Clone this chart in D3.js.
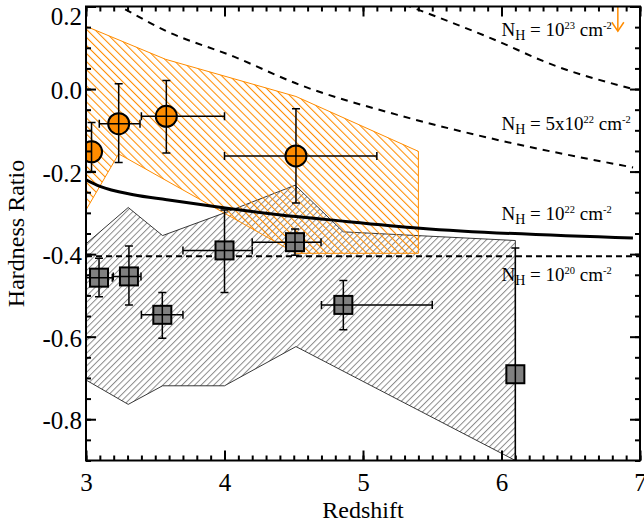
<!DOCTYPE html>
<html><head><meta charset="utf-8">
<script src="https://cdn.jsdelivr.net/npm/d3@7"></script>
<style>
html,body{margin:0;padding:0;background:#fff;}
svg text{font-family:"Liberation Serif","Times New Roman","DejaVu Serif",serif;}
</style></head>
<body>
<svg id="chart" width="644" height="525"></svg>
<script>
// ---- data ----
const xTickValues = [3, 4, 5, 6, 7];
const xTickLabels = ["3", "4", "5", "6", "7"];
const yTickValues = [0.2, 0.0, -0.2, -0.4, -0.6, -0.8];
const yTickLabels = ["0.2", "0.0", "-0.2", "-0.4", "-0.6", "-0.8"];

// orange circles (hard sources)
const circX   = [3.04, 3.236, 3.58, 4.516];
const circY   = [-0.152, -0.084, -0.066, -0.162];
const circYlo = [-0.200, -0.178, -0.155, -0.276];
const circYhi = [-0.081, 0.013, 0.021, -0.048];
const circXlo = [3.04, 3.096, 3.40, 4.00];
const circXhi = [3.04, 3.39, 4.00, 5.10];

// gray squares (soft sources)
const sqX   = [3.094, 3.31, 3.551, 4.0, 4.509, 4.858, 6.10];
const sqY   = [-0.457, -0.454, -0.547, -0.391, -0.371, -0.523, -0.691];
const sqYlo = [-0.503, -0.523, -0.604, -0.493, -0.403, -0.583, -0.95];
const sqYhi = [-0.410, -0.380, -0.493, -0.293, -0.339, -0.464, -0.385];
const sqXlo = [3.00, 3.197, 3.40, 3.70, 4.20, 4.70, 6.10];
const sqXhi = [3.19, 3.397, 3.70, 4.20, 4.697, 5.50, 6.10];

// upper limit arrow
const limX = [6.84];
const limY = [0.14];

// gray hatched band
const grayUpperX = [3.0, 3.305, 3.553, 4.0, 4.51, 4.858, 6.1];
const grayUpperY = [-0.375, -0.287, -0.355, -0.300, -0.233, -0.346, -0.367];
const grayLowerX = [6.1, 4.516, 4.0, 3.553, 3.305, 3.0];
const grayLowerY = [-0.9, -0.624, -0.719, -0.719, -0.764, -0.705];

// orange hatched band
const orangeUpperX = [3.0, 3.575, 4.516, 5.4];
const orangeUpperY = [0.152, 0.072, -0.018, -0.151];
const orangeLowerX = [5.4, 4.516, 3.236, 3.0];
const orangeLowerY = [-0.398, -0.398, -0.157, -0.293];

// N_H model curves
const nh23X = [5.30, 5.339, 5.917, 6.398, 6.928];
const nh23Y = [0.205, 0.200, 0.124, 0.055, 0.002];
const nh5e22X = [3.20, 3.245, 3.583, 4.064, 4.545, 5.243, 5.917, 6.95];
const nh5e22Y = [0.208, 0.200, 0.140, 0.079, 0.010, -0.062, -0.119, -0.190];
const nh22X = [3.0, 3.101, 3.342, 3.583, 4.004, 4.516, 4.762, 5.412, 6.949];
const nh22Y = [-0.220, -0.236, -0.256, -0.268, -0.288, -0.309, -0.317, -0.337, -0.361];
const nh20X = [3.0, 7.0];
const nh20Y = [-0.405, -0.405];

const labelX = [6.0, 6.0, 6.0, 6.0];
const labelY = [0.129, -0.099, -0.317, -0.466];
const labelExp = ["23", "22", "22", "20"];
const labelPre = ["10", "5x10", "10", "10"];

// ---- chart ----
const FONT = "Liberation Serif, Times New Roman, DejaVu Serif, serif";
const svg = d3.select("#chart");
const x = d3.scaleLinear().domain([3, 7]).range([86, 640]);
const y = d3.scaleLinear().domain([-0.9, 0.2]).range([460.5, 6.5]);
const ORANGE = "#ff8c00";

const defs = svg.append("defs");
defs.append("clipPath").attr("id", "clip").append("rect")
  .attr("x", x(3)).attr("y", y(0.2)).attr("width", x(7) - x(3)).attr("height", y(-0.9) - y(0.2));
const gp = defs.append("pattern").attr("id", "grayHatch").attr("patternUnits", "userSpaceOnUse")
  .attr("width", 4.5).attr("height", 10).attr("patternTransform", "rotate(45)");
gp.append("line").attr("x1", 0.5).attr("y1", 0).attr("x2", 0.5).attr("y2", 10)
  .attr("stroke", "#8a8a8a").attr("stroke-width", 1);
const op = defs.append("pattern").attr("id", "orangeHatch").attr("patternUnits", "userSpaceOnUse")
  .attr("width", 5.7).attr("height", 10).attr("patternTransform", "rotate(-45)");
op.append("line").attr("x1", 0.5).attr("y1", 0).attr("x2", 0.5).attr("y2", 10)
  .attr("stroke", ORANGE).attr("stroke-width", 1.1);

const plot = svg.append("g").attr("clip-path", "url(#clip)");

function poly(ux, uy, lx, ly) {
  const pts = ux.map((d, i) => [x(d), y(uy[i])]).concat(lx.map((d, i) => [x(d), y(ly[i])]));
  return d3.line()(pts) + "Z";
}
plot.append("path").attr("d", poly(grayUpperX, grayUpperY, grayLowerX, grayLowerY))
  .attr("fill", "url(#grayHatch)").attr("stroke", "#222").attr("stroke-width", 0.9);
plot.append("path").attr("d", poly(orangeUpperX, orangeUpperY, orangeLowerX, orangeLowerY))
  .attr("fill", "url(#orangeHatch)").attr("stroke", ORANGE).attr("stroke-width", 1);

const smooth = d3.line().x(d => x(d[0])).y(d => y(d[1])).curve(d3.curveMonotoneX);
const zip = (a, b) => a.map((d, i) => [d, b[i]]);
plot.append("path").attr("d", smooth(zip(nh23X, nh23Y))).attr("fill", "none")
  .attr("stroke", "#000").attr("stroke-width", 2).attr("stroke-dasharray", "7,6");
plot.append("path").attr("d", smooth(zip(nh5e22X, nh5e22Y))).attr("fill", "none")
  .attr("stroke", "#000").attr("stroke-width", 2).attr("stroke-dasharray", "7,6");
plot.append("path").attr("d", smooth(zip(nh22X, nh22Y))).attr("fill", "none")
  .attr("stroke", "#000").attr("stroke-width", 3);
plot.append("path").attr("d", smooth(zip(nh20X, nh20Y))).attr("fill", "none")
  .attr("stroke", "#000").attr("stroke-width", 2).attr("stroke-dasharray", "6,4");

// upper limit arrow
limX.forEach((d, i) => {
  const g = plot.append("g").attr("stroke", ORANGE).attr("stroke-width", 1.5).attr("fill", "none");
  g.append("line").attr("x1", x(d)).attr("x2", x(d)).attr("y1", y(0.2)).attr("y2", y(limY[i]));
  g.append("path").attr("d", `M${x(d) - 6},${y(limY[i]) - 9}L${x(d)},${y(limY[i])}L${x(d) + 6},${y(limY[i]) - 9}`);
});

// markers + error bars
function errBars(X, Y, Xlo, Xhi, Ylo, Yhi) {
  const g = plot.append("g").attr("stroke", "#000").attr("stroke-width", 1.5);
  const cap = 4;
  X.forEach((d, i) => {
    g.append("line").attr("x1", x(d)).attr("x2", x(d)).attr("y1", y(Ylo[i])).attr("y2", y(Yhi[i]));
    g.append("line").attr("x1", x(d) - cap).attr("x2", x(d) + cap).attr("y1", y(Ylo[i])).attr("y2", y(Ylo[i]));
    g.append("line").attr("x1", x(d) - cap).attr("x2", x(d) + cap).attr("y1", y(Yhi[i])).attr("y2", y(Yhi[i]));
    if (Xhi[i] > Xlo[i]) {
      g.append("line").attr("x1", x(Xlo[i])).attr("x2", x(Xhi[i])).attr("y1", y(Y[i])).attr("y2", y(Y[i]));
      g.append("line").attr("x1", x(Xlo[i])).attr("x2", x(Xlo[i])).attr("y1", y(Y[i]) - cap).attr("y2", y(Y[i]) + cap);
      g.append("line").attr("x1", x(Xhi[i])).attr("x2", x(Xhi[i])).attr("y1", y(Y[i]) - cap).attr("y2", y(Y[i]) + cap);
    }
  });
}
plot.selectAll("rect.sq").data(sqX).join("rect").attr("class", "sq")
  .attr("x", (d) => x(d) - 9).attr("y", (d, i) => y(sqY[i]) - 9)
  .attr("width", 18).attr("height", 18)
  .attr("fill", "#808080").attr("stroke", "#000").attr("stroke-width", 2);
errBars(sqX, sqY, sqXlo, sqXhi, sqYlo, sqYhi);
plot.selectAll("circle.ci").data(circX).join("circle").attr("class", "ci")
  .attr("cx", d => x(d)).attr("cy", (d, i) => y(circY[i])).attr("r", 10.5)
  .attr("fill", ORANGE).attr("stroke", "#000").attr("stroke-width", 2);
errBars(circX, circY, circXlo, circXhi, circYlo, circYhi);

// labels
labelX.forEach((d, i) => {
  const t = svg.append("text").attr("x", x(d)).attr("y", y(labelY[i])).attr("font-size", 19)
    .attr("font-family", FONT).attr("fill", "#000");
  t.append("tspan").text("N");
  t.append("tspan").attr("font-size", 14).attr("dy", 4).text("H");
  t.append("tspan").attr("dy", -4).text(" = " + labelPre[i]);
  t.append("tspan").attr("font-size", 10.5).attr("dy", -7).text(labelExp[i]);
  t.append("tspan").attr("dy", 7).text(" cm");
  t.append("tspan").attr("font-size", 10.5).attr("dy", -7).text("-2");
});

// axes
const xMinor = d3.range(3, 7.0001, 0.1);
const yMinor = d3.range(-0.9, 0.2001, 0.05);
function styleAxis(g) {
  g.attr("font-family", FONT);
  g.select(".domain").remove();
  g.selectAll(".tick line").attr("stroke", "#000").attr("stroke-width", 2);
}
svg.append("g").attr("transform", `translate(0,${y(-0.9)})`)
  .call(d3.axisBottom(x).tickValues(xMinor).tickSize(-5).tickFormat("")).call(styleAxis);
svg.append("g").attr("transform", `translate(0,${y(0.2)})`)
  .call(d3.axisTop(x).tickValues(xMinor).tickSize(-5).tickFormat("")).call(styleAxis);
svg.append("g").attr("transform", `translate(${x(3)},0)`)
  .call(d3.axisLeft(y).tickValues(yMinor).tickSize(-5).tickFormat("")).call(styleAxis);
svg.append("g").attr("transform", `translate(${x(7)},0)`)
  .call(d3.axisRight(y).tickValues(yMinor).tickSize(-5).tickFormat("")).call(styleAxis);

const xb = svg.append("g").attr("transform", `translate(0,${y(-0.9)})`)
  .call(d3.axisBottom(x).tickValues(xTickValues).tickSize(-10).tickPadding(13)
    .tickFormat((d, i) => xTickLabels[i])).call(styleAxis);
xb.selectAll("text").attr("font-size", 25).attr("font-family", FONT).attr("fill", "#000");
svg.append("g").attr("transform", `translate(0,${y(0.2)})`)
  .call(d3.axisTop(x).tickValues(xTickValues).tickSize(-10).tickFormat("")).call(styleAxis);
const yl = svg.append("g").attr("transform", `translate(${x(3)},0)`)
  .call(d3.axisLeft(y).tickValues(yTickValues).tickSize(-10).tickPadding(4)
    .tickFormat((d, i) => yTickLabels[i])).call(styleAxis);
yl.selectAll("text").attr("font-size", 25).attr("font-family", FONT).attr("fill", "#000")
  .attr("dy", (d, i) => i === 0 ? "0.7em" : "0.38em");
svg.append("g").attr("transform", `translate(${x(7)},0)`)
  .call(d3.axisRight(y).tickValues(yTickValues).tickSize(-10).tickFormat("")).call(styleAxis);

svg.append("rect").attr("x", x(3)).attr("y", y(0.2)).attr("width", x(7) - x(3)).attr("height", y(-0.9) - y(0.2))
  .attr("fill", "none").attr("stroke", "#000").attr("stroke-width", 2);

svg.append("text").attr("x", (x(3) + x(7)) / 2).attr("y", 518).attr("text-anchor", "middle")
  .attr("font-family", FONT).attr("font-size", 24).text("Redshift");
svg.append("text").attr("transform", `translate(23.5,${(y(0.2) + y(-0.9)) / 2}) rotate(-90)`)
  .attr("text-anchor", "middle").attr("font-family", FONT).attr("font-size", 24).text("Hardness Ratio");
</script>
</body></html>
